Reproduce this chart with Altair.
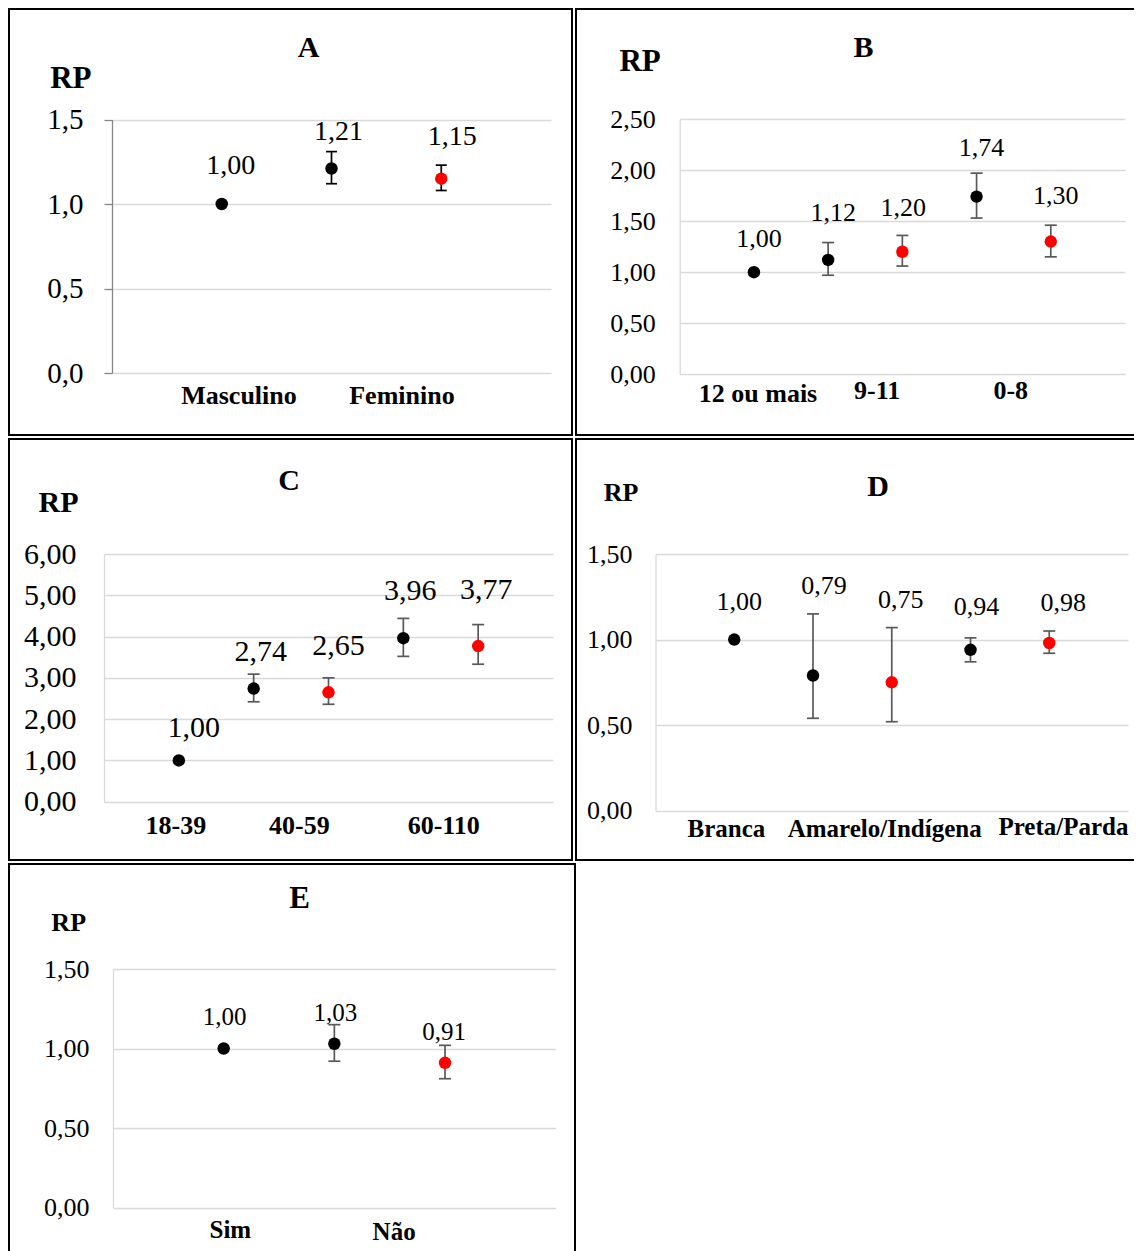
import altair as alt
import pandas as pd

FONT = "Liberation Serif"
NAN = float("nan")

# ---------------- data ----------------
# A - Sexo
A_rp = [1.00, 1.21, 1.15]
A_lo = [NAN, 1.12, 1.08]
A_hi = [NAN, 1.31, 1.23]
A_kind = ["ref", "bruta", "ajustada"]
A_cats = ["Masculino", "Feminino"]
A_ticks = [0.0, 0.5, 1.0, 1.5]

# B - Escolaridade
B_rp = [1.00, 1.12, 1.20, 1.74, 1.30]
B_lo = [NAN, 0.97, 1.06, 1.53, 1.15]
B_hi = [NAN, 1.29, 1.36, 1.97, 1.46]
B_kind = ["ref", "bruta", "ajustada", "bruta", "ajustada"]
B_cats = ["12 ou mais", "9-11", "0-8"]
B_ticks = [0.0, 0.5, 1.0, 1.5, 2.0, 2.5]

# C - Idade
C_rp = [1.00, 2.74, 2.65, 3.96, 3.77]
C_lo = [NAN, 2.42, 2.36, 3.52, 3.33]
C_hi = [NAN, 3.09, 3.00, 4.44, 4.29]
C_kind = ["ref", "bruta", "ajustada", "bruta", "ajustada"]
C_cats = ["18-39", "40-59", "60-110"]
C_ticks = [0.0, 1.0, 2.0, 3.0, 4.0, 5.0, 6.0]

# D - Raça/cor
D_rp = [1.00, 0.79, 0.75, 0.94, 0.98]
D_lo = [NAN, 0.54, 0.52, 0.87, 0.92]
D_hi = [NAN, 1.15, 1.07, 1.01, 1.05]
D_kind = ["ref", "bruta", "ajustada", "bruta", "ajustada"]
D_cats = ["Branca", "Amarelo/Indígena", "Preta/Parda"]
D_ticks = [0.0, 0.5, 1.0, 1.5]

# E
E_rp = [1.00, 1.03, 0.91]
E_lo = [NAN, 0.92, 0.81]
E_hi = [NAN, 1.15, 1.02]
E_kind = ["ref", "bruta", "ajustada"]
E_cats = ["Sim", "Não"]
E_ticks = [0.0, 0.5, 1.0, 1.5]

COLOR_DOMAIN = ["ref", "bruta", "ajustada"]
COLOR_RANGE = ["#000000", "#000000", "#ff0000"]

# ---------------- layout (page pixels) ----------------
LA = dict(origin=(9, 9), size=(563, 426), open_right=False, ax=112, gx=551, slots=4, y0=373, ytop=119.5, ymax=1.5,
          tick_font=29, ticks=True, tick_size=8, domain_color="#868686", label_right=83,
          rp_font=31, rp_x=70.3, rp_base=87.3, title_font=30, title_x=308, title_base=56.7,
          val_font=28, val_dx=[9, 7, 11], val_dy=[-38, -37, -41.5],
          cat_font=26, cat_slot=[1.157, 2.642], cat_dy=[31, 31], err_color="#000000", cap=11, dec=1)
LB = dict(origin=(576, 9), size=(558, 426), open_right=True, ax=679.7, gx=1125, slots=6, y0=374.3, ytop=119, ymax=2.5,
          tick_font=26, ticks=False, tick_size=0, domain_color="#d9d9d9", label_right=655.3,
          rp_font=31, rp_x=639.6, rp_base=70.7, title_font=30, title_x=863, title_base=56.7,
          val_font=26, val_dx=[5, 5, 1, 5, 5], val_dy=[-33, -47, -44, -49, -46],
          cat_font=26, cat_slot=[1.055, 2.66, 4.46], cat_dy=[28, 25, 25], err_color="#595959", cap=12, dec=2)
LC = dict(origin=(9, 439), size=(563, 421), open_right=False, ax=104, gx=553, slots=6, y0=801.7, ytop=554, ymax=6,
          tick_font=30, ticks=False, tick_size=0, domain_color="#d9d9d9", label_right=75.9,
          rp_font=30, rp_x=58, rp_base=511.7, title_font=30, title_x=288.7, title_base=489,
          val_font=30, val_dx=[15, 7, 10, 7, 8], val_dy=[-32, -37, -46, -47, -56],
          cat_font=26, cat_slot=[0.96, 2.61, 4.54], cat_dy=[32, 32, 32], err_color="#595959", cap=12, dec=2)
LD = dict(origin=(576, 439), size=(558, 421), open_right=True, ax=655.5, gx=1128, slots=6, y0=810.7, ytop=554, ymax=1.5,
          tick_font=26, ticks=False, tick_size=0, domain_color="#d9d9d9", label_right=632,
          rp_font=26, rp_x=620.6, rp_base=500, title_font=30, title_x=877.5, title_base=495,
          val_font=26, val_dx=[5, 11, 9, 6, 14], val_dy=[-38, -90, -82, -43, -40],
          cat_font=25, cat_slot=[0.90, 2.91, 5.18], cat_dy=[26.3, 26.3, 24.3], err_color="#595959", cap=12, dec=2)
LE = dict(origin=(9, 864), size=(566, 400), open_right=False, ax=113, gx=555.7, slots=4, y0=1207.5, ytop=969, ymax=1.5,
          tick_font=26, ticks=False, tick_size=0, domain_color="#d9d9d9", label_right=89,
          rp_font=26, rp_x=68.2, rp_base=930.7, title_font=31, title_x=299, title_base=907.7,
          val_font=25, val_dx=[1, 1, -1], val_dy=[-32, -31, -31],
          cat_font=25, cat_slot=[1.06, 2.54], cat_dy=[30.2, 32.5], err_color="#595959", cap=12, dec=2)


def panel(title, rp, lo, hi, kind, cats, ticks, L):
    ox, oy = L["origin"]
    w, h = L["size"]
    n = len(rp)
    pts = pd.DataFrame({"slot": list(range(1, n + 1)), "rp": rp, "lo": lo, "hi": hi,
                        "kind": kind, "dx": L["val_dx"], "dy": L["val_dy"]})
    pts["label"] = [f"{v:.2f}".replace(".", ",") for v in rp]
    err = pts.dropna(subset=["lo", "hi"])
    caps = pd.concat([err[["slot"]].assign(v=err["lo"]), err[["slot"]].assign(v=err["hi"])])
    cat = pd.DataFrame({"name": cats, "slot": L["cat_slot"], "base": [0.0] * len(cats),
                        "cdy": L["cat_dy"]})

    xs = alt.Scale(domain=[0, L["slots"]], range=[L["ax"] - ox, L["gx"] - ox], nice=False, zero=False)
    ys = alt.Scale(domain=[0, L["ymax"]], range=[L["y0"] - oy, L["ytop"] - oy], nice=False, zero=False)
    tsize = L["tick_size"] if L["ticks"] else 0
    dec = L["dec"]
    yaxis = alt.Axis(
        values=ticks,
        labelExpr=f"replace(format(datum.value, '.{dec}f'), '.', ',')",
        grid=True, gridColor="#d9d9d9", gridWidth=1.3,
        domain=True, domainColor=L["domain_color"], domainWidth=1.3,
        ticks=L["ticks"], tickSize=tsize, tickColor=L["domain_color"], tickWidth=1.3,
        labelFont=FONT, labelFontSize=L["tick_font"], labelColor="#000000",
        labelPadding=L["ax"] - L["label_right"] - tsize, labelOverlap=False,
        offset=-(L["ax"] - ox),
        title="RP", titleAngle=0, titleAlign="center", titleBaseline="alphabetic",
        titleX=L["rp_x"] - L["ax"], titleY=L["rp_base"] - oy,
        titleFont=FONT, titleFontSize=L["rp_font"], titleFontWeight="bold", titleColor="#000000",
    )
    # panel letter shown as the title of a bare top x axis
    xaxis = alt.Axis(
        orient="top", domain=False, ticks=False, labels=False, grid=False,
        title=title, titleAngle=0, titleAlign="center", titleBaseline="alphabetic",
        titleX=L["title_x"] - ox, titleY=L["title_base"] - oy,
        titleFont=FONT, titleFontSize=L["title_font"], titleFontWeight="bold", titleColor="#000000",
    )
    X = alt.X("slot:Q", scale=xs, axis=xaxis)

    rules = alt.Chart(err).mark_rule(color=L["err_color"], strokeWidth=1.7).encode(
        x=X, y=alt.Y("lo:Q", scale=ys, axis=yaxis), y2="hi:Q")
    capm = alt.Chart(caps).mark_tick(orient="horizontal", size=L["cap"], thickness=1.7,
                                     color=L["err_color"], opacity=1).encode(
        x=X, y=alt.Y("v:Q", scale=ys, axis=yaxis))
    dots = alt.Chart(pts).mark_circle(size=155, opacity=1).encode(
        x=X, y=alt.Y("rp:Q", scale=ys, axis=yaxis),
        color=alt.Color("kind:N", scale=alt.Scale(domain=COLOR_DOMAIN, range=COLOR_RANGE), legend=None))
    vals = alt.Chart(pts).mark_text(font=FONT, fontSize=L["val_font"], color="#000000",
                                    align="center", baseline="middle",
                                    dx=alt.expr("datum.dx"), dy=alt.expr("datum.dy")).encode(
        x=X, y=alt.Y("rp:Q", scale=ys, axis=yaxis), text="label:N")
    catl = alt.Chart(cat).mark_text(font=FONT, fontSize=L["cat_font"], fontWeight="bold",
                                    color="#000000", align="center", baseline="alphabetic",
                                    dy=alt.expr("datum.cdy")).encode(
        x=X, y=alt.Y("base:Q", scale=ys, axis=yaxis), text="name:N")

    if L["open_right"]:
        # outline drawn on top, bottom and left only (right side runs off the page)
        view = alt.ViewBackground(stroke="#000000", strokeWidth=2,
                                  strokeDash=[w, h, 2 * (w + h)])
    else:
        view = alt.ViewBackground(stroke="#000000", strokeWidth=2)

    return alt.layer(rules, capm, dots, vals, catl).properties(width=w, height=h, view=view)


pA = panel("A", A_rp, A_lo, A_hi, A_kind, A_cats, A_ticks, LA)
pB = panel("B", B_rp, B_lo, B_hi, B_kind, B_cats, B_ticks, LB)
pC = panel("C", C_rp, C_lo, C_hi, C_kind, C_cats, C_ticks, LC)
pD = panel("D", D_rp, D_lo, D_hi, D_kind, D_cats, D_ticks, LD)
pE = panel("E", E_rp, E_lo, E_hi, E_kind, E_cats, E_ticks, LE)

chart = alt.vconcat(
    alt.hconcat(pA, pB, spacing=2),
    alt.hconcat(pC, pD, spacing=2),
    pE,
    spacing=2,
).properties(padding=0, background="#ffffff")

chart.save("out.html", embed_options={"renderer": "svg", "actions": False})
